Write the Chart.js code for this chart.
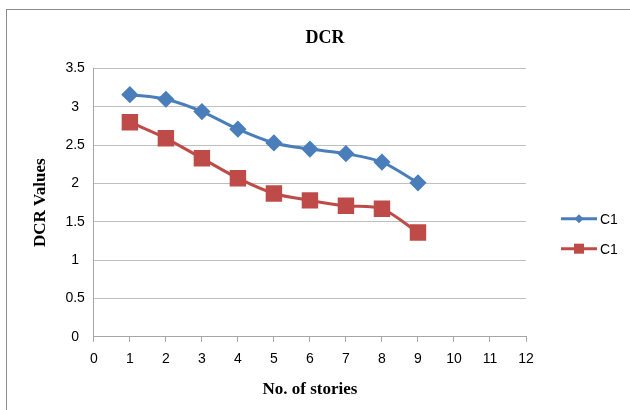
<!DOCTYPE html>
<html>
<head>
<meta charset="utf-8">
<script src="https://cdn.jsdelivr.net/npm/chart.js@4.4.1/dist/chart.umd.min.js"></script>
<style>
  body { margin: 0; background: #fff; }
  #frame { position: absolute; left: 6px; top: 9px; width: 640px; height: 420px; border: 1px solid #8c8c8c; }
  #chart { position: absolute; left: 0; top: 0; }
</style>
</head>
<body>
<div id="frame"></div>
<canvas id="chart" width="630" height="410"></canvas>
<script>
const stories = [1, 2, 3, 4, 5, 6, 7, 8, 9];
const dcrBlue = [3.16, 3.10, 2.94, 2.71, 2.53, 2.45, 2.39, 2.28, 2.01];
const dcrRed = [2.80, 2.59, 2.33, 2.07, 1.87, 1.78, 1.71, 1.67, 1.36];
const seriesNames = ['C1', 'C1'];

const blue = '#4a7ebb';
const red = '#be4b48';

function toPoints(xs, ys) {
    return xs.map((x, i) => ({ x: x, y: ys[i] }));
}

// legend drawn by hand: Excel style line with marker, stacked at the right
const sideLegend = {
    id: 'sideLegend',
    afterDraw(chart) {
        const g = chart.ctx;
        const left = chart.chartArea.right + 35;
        const mid = (chart.chartArea.top + chart.chartArea.bottom) / 2;
        const rows = [mid + 16, mid + 46];
        chart.data.datasets.forEach((ds, i) => {
            const y = rows[i];
            g.save();
            g.strokeStyle = ds.borderColor;
            g.fillStyle = ds.borderColor;
            g.lineWidth = 3;
            g.beginPath();
            g.moveTo(left, y);
            g.lineTo(left + 36, y);
            g.stroke();
            if (ds.pointStyle == 'rectRot') {
                g.beginPath();
                g.moveTo(left + 18, y - 4.5);
                g.lineTo(left + 22.5, y);
                g.lineTo(left + 18, y + 4.5);
                g.lineTo(left + 13.5, y);
                g.closePath();
                g.fill();
            } else {
                g.fillRect(left + 13, y - 5, 10, 10);
            }
            g.fillStyle = '#000';
            g.font = '14px "Liberation Sans"';
            g.textBaseline = 'middle';
            g.fillText(ds.label, left + 39, y + 1);
            g.restore();
        });
    }
};

const ctx = document.getElementById('chart').getContext('2d');
const myChart = new Chart(ctx, {
    type: 'line',
    data: {
        datasets: [{
            label: seriesNames[0],
            data: toPoints(stories, dcrBlue),
            borderColor: blue,
            backgroundColor: blue,
            borderWidth: 3,
            pointStyle: 'rectRot',
            pointRadius: 6.5,
            pointHoverRadius: 6.5,
            tension: 0.3
        }, {
            label: seriesNames[1],
            data: toPoints(stories, dcrRed),
            borderColor: red,
            backgroundColor: red,
            borderWidth: 3,
            pointStyle: 'rect',
            pointRadius: 9.5,
            pointHoverRadius: 9.5,
            tension: 0.3
        }]
    },
    plugins: [sideLegend],
    options: {
        responsive: false,
        animation: false,
        layout: { padding: { top: 10, left: 30, right: 10, bottom: 10 } },
        plugins: {
            title: {
                display: true,
                text: 'DCR',
                color: '#000',
                font: { family: 'Liberation Serif', size: 18, weight: 'bold' },
                padding: { top: 18, bottom: 19 }
            },
            legend: { display: false },
            tooltip: { enabled: false }
        },
        scales: {
            x: {
                type: 'linear',
                min: 0,
                max: 12,
                ticks: {
                    stepSize: 1,
                    color: '#000',
                    font: { family: 'Liberation Sans', size: 14 },
                    padding: 9
                },
                grid: { display: true, drawOnChartArea: false, drawTicks: true, tickLength: 5, color: '#a6a6a6' },
                border: { color: '#a6a6a6' },
                title: {
                    display: true,
                    text: 'No. of stories',
                    color: '#000',
                    font: { family: 'Liberation Serif', size: 17, weight: 'bold' },
                    padding: { top: 3, bottom: 0 }
                }
            },
            y: {
                min: 0,
                max: 3.5,
                ticks: {
                    stepSize: 0.5,
                    color: '#000',
                    font: { family: 'Liberation Sans', size: 14 },
                    crossAlign: 'center',
                    padding: 9,
                    callback: value => String(value)
                },
                grid: { color: '#bfbfbf', drawTicks: false },
                border: { color: '#a6a6a6' },
                title: {
                    display: true,
                    text: 'DCR Values',
                    color: '#000',
                    font: { family: 'Liberation Serif', size: 17, weight: 'bold' },
                    padding: { top: 0, bottom: 6 }
                }
            },
            // empty axis on the right that keeps room for the legend
            legendRoom: {
                type: 'linear',
                position: 'right',
                display: true,
                ticks: { display: false },
                grid: { display: false, drawTicks: false },
                border: { display: false },
                afterFit: scale => { scale.width = 94; }
            }
        }
    }
});
</script>
</body>
</html>
